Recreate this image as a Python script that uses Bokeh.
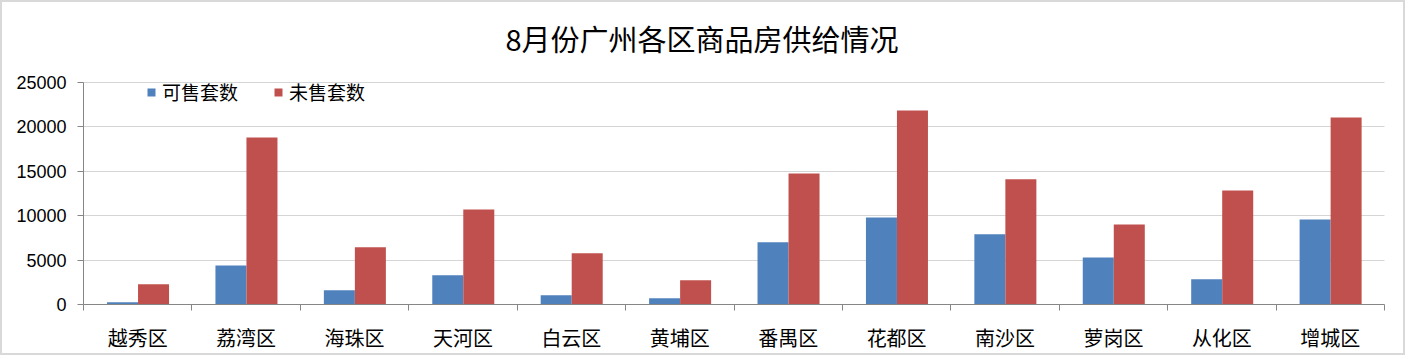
from bokeh.plotting import figure
from bokeh.models import (ColumnDataSource, FixedTicker, Range1d, Legend, LegendItem,
                          LinearAxis, Grid, Label)
from bokeh.embed import file_html
from bokeh.resources import INLINE

districts = ["越秀区", "荔湾区", "海珠区", "天河区", "白云区", "黄埔区",
             "番禺区", "花都区", "南沙区", "萝岗区", "从化区", "增城区"]
available = [250, 4400, 1600, 3300, 1050, 700, 7000, 9800, 7900, 5300, 2830, 9570]
unsold = [2280, 18800, 6450, 10700, 5770, 2720, 14760, 21850, 14100, 9000, 12840, 21050]
y_ticks = [0, 5000, 10000, 15000, 20000, 25000]
title_text = "8月份广州各区商品房供给情况"
series_names = ["可售套数", "未售套数"]

BLUE = "#4f81bd"
RED = "#c0504d"
AXIS = "#868686"
CJK = "Noto Sans CJK SC"

n = len(districts)
centers = [i + 0.5 for i in range(n)]
bounds = [float(i) for i in range(n + 1)]

src = ColumnDataSource(dict(
    xb=[c - 0.14 for c in centers],
    xr=[c + 0.146 for c in centers],
    a=available, u=unsold,
))

W, H = 1405, 355
# frame reaches the top of the canvas so the title label can sit inside it;
# the 25000 tick stays 222 px above the baseline
y_top = 25000 * 302 / 222
p = figure(width=W, height=H, output_backend="svg", toolbar_location=None,
           x_range=Range1d(0, n), y_range=Range1d(0, y_top),
           min_border_left=81, min_border_right=23, min_border_top=0,
           min_border_bottom=53, x_axis_location=None, y_axis_location=None)
p.styles = {"border": "2px solid #d9d9d9"}
p.outline_line_color = None
p.background_fill_color = "white"
p.border_fill_color = "white"

rb = p.vbar(x="xb", top="a", width=0.286, source=src, fill_color=BLUE, line_color=None)
rr = p.vbar(x="xr", top="u", width=0.286, source=src, fill_color=RED, line_color=None)

yax = LinearAxis(ticker=FixedTicker(ticks=y_ticks), bounds=(0, 25000))
yax.axis_line_color = AXIS
yax.major_tick_line_color = AXIS
yax.major_tick_out = 6
yax.major_tick_in = 0
yax.minor_tick_line_color = None
yax.major_label_text_font = "Liberation Sans"
yax.major_label_text_font_size = "18px"
yax.major_label_text_color = "black"
yax.major_label_standoff = 11
p.add_layout(yax, "left")

xax = LinearAxis(ticker=FixedTicker(ticks=centers, minor_ticks=bounds))
xax.major_label_overrides = {c: d for c, d in zip(centers, districts)}
xax.axis_line_color = AXIS
xax.major_tick_line_color = None
xax.major_tick_out = 0
xax.major_tick_in = 0
xax.minor_tick_line_color = AXIS
xax.minor_tick_out = 6
xax.minor_tick_in = 0
xax.major_label_text_font = CJK
xax.major_label_text_font_size = "20px"
xax.major_label_text_color = "black"
xax.major_label_standoff = 12
p.add_layout(xax, "below")

p.xgrid.visible = False
p.add_layout(Grid(dimension=1, ticker=yax.ticker, grid_line_color="#c4c4c4",
                  grid_line_dash="1 1", grid_line_width=1))

# Label screen units are relative to the frame's bottom-left corner
title = Label(x=618.5, y=267, x_units="screen", y_units="screen", text=title_text,
              text_font=CJK, text_font_size="29px", text_color="black",
              text_align="center", text_baseline="middle")
p.add_layout(title)

legend = Legend(items=[LegendItem(label=series_names[0], renderers=[rb]),
                       LegendItem(label=series_names[1], renderers=[rr])],
                orientation="horizontal", location=(63, 199),
                glyph_width=10, glyph_height=10, label_standoff=6, spacing=33,
                label_height=26, label_width=78, padding=0, margin=0,
                border_line_color=None, background_fill_alpha=0,
                label_text_font=CJK, label_text_font_size="19px",
                label_text_color="black")
p.add_layout(legend, "center")

open("out.html", "w").write(file_html(p, INLINE))
